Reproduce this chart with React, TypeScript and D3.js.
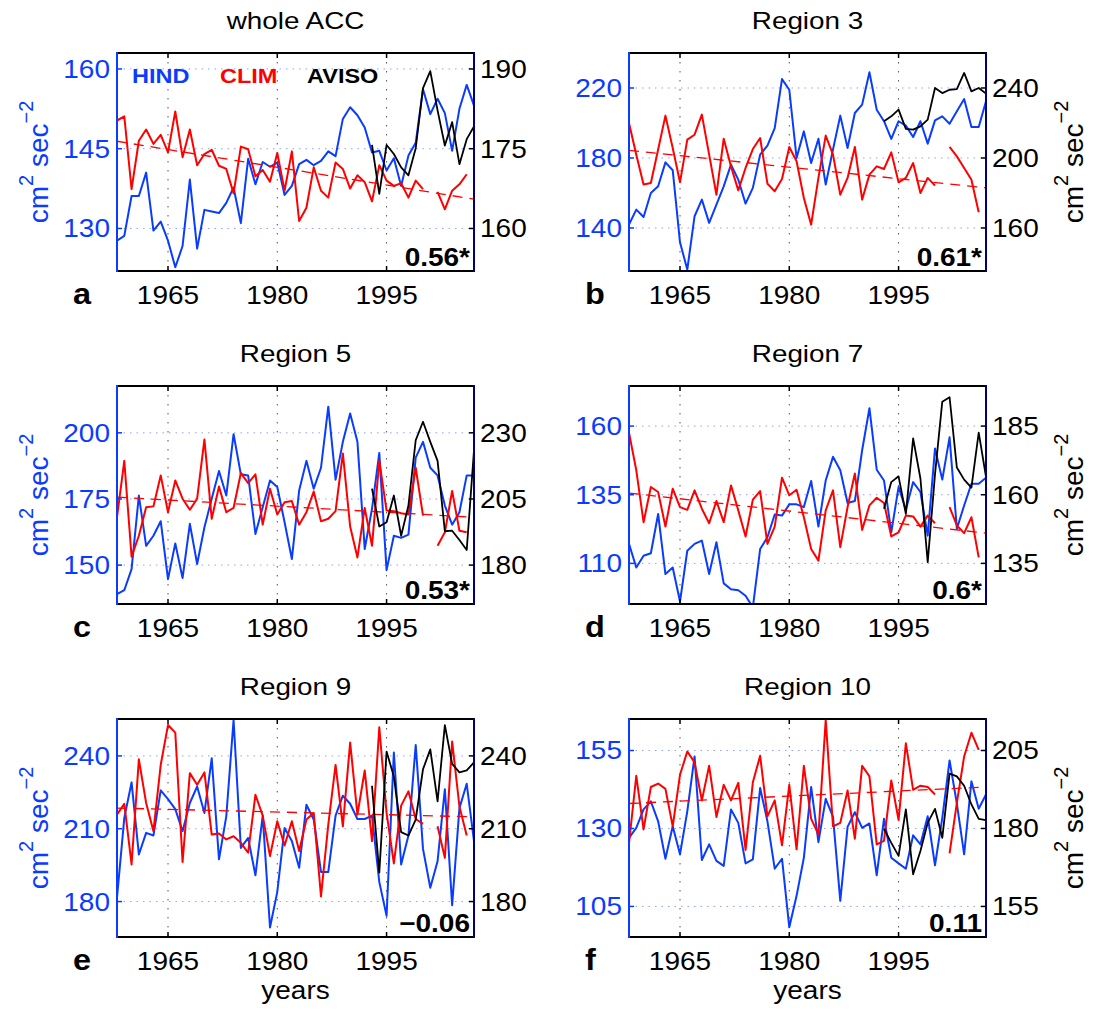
import React, { useEffect, useRef } from 'react';
import * as d3 from 'd3';

// years on the x axis
const years = d3.range(1958, 2008);
const avisoYears = d3.range(1993, 2008);

// HIND (left axis), one value per year 1958-2007
const hindA = [127.7, 128.6, 136.1, 136.1, 140.5, 129.6, 131.3, 127.7, 122.7, 126.7, 139.2, 126.2, 133.5, 133.2, 132.9, 134.8, 137.7, 131.0, 143.1, 138.3, 142.5, 141.6, 142.4, 136.3, 138.0, 142.1, 142.9, 141.9, 142.7, 144.5, 143.6, 150.6, 152.8, 151.3, 149.0, 144.3, 144.6, 140.9, 143.2, 138.0, 143.7, 146.1, 156.2, 151.5, 154.4, 151.7, 144.6, 152.5, 157.0, 153.1];
const hindB = [141.9, 150.5, 146.3, 160.0, 163.8, 177.5, 173.0, 131.8, 116.2, 146.7, 156.2, 142.9, 153.3, 163.8, 176.2, 167.6, 153.9, 162.9, 181.9, 187.0, 197.1, 225.1, 219.0, 180.0, 195.2, 177.1, 191.0, 164.8, 184.8, 204.2, 185.7, 205.7, 210.5, 229.0, 207.6, 201.0, 190.9, 201.0, 198.5, 192.0, 201.0, 188.2, 201.5, 203.8, 199.6, 206.7, 213.7, 197.7, 197.7, 212.4];
const hindC = [139.0, 140.5, 148.5, 176.3, 157.3, 161.1, 166.6, 144.7, 158.2, 145.1, 165.6, 150.4, 164.3, 175.1, 185.6, 176.3, 199.5, 184.3, 183.9, 161.8, 171.9, 182.0, 179.5, 166.2, 152.3, 178.2, 189.4, 178.9, 186.8, 209.9, 182.3, 196.6, 207.3, 196.6, 156.1, 171.3, 192.4, 148.1, 161.1, 160.3, 161.5, 190.6, 196.6, 186.8, 183.9, 172.5, 165.3, 170.0, 183.9, 183.9];
const hindD = [117.1, 108.5, 112.8, 113.7, 128.0, 106.1, 108.5, 96.1, 114.6, 117.1, 118.3, 106.1, 117.7, 102.7, 100.6, 100.2, 98.2, 94.0, 115.2, 119.5, 127.8, 127.4, 131.5, 131.5, 130.5, 140.0, 123.4, 140.2, 148.8, 143.9, 132.0, 132.7, 151.2, 166.5, 144.1, 140.2, 121.3, 137.8, 129.5, 139.6, 136.0, 120.1, 151.8, 140.5, 155.9, 122.6, 131.1, 139.0, 139.0, 141.2];
const hindE = [181.6, 214.4, 229.1, 199.4, 208.3, 207.2, 225.8, 222.2, 218.1, 209.0, 220.6, 227.4, 216.5, 239.0, 197.4, 215.1, 254.8, 202.1, 206.2, 190.8, 215.4, 169.3, 184.0, 210.3, 204.9, 193.9, 219.9, 213.8, 192.2, 192.2, 215.4, 223.6, 220.3, 214.0, 214.0, 215.4, 188.1, 174.1, 241.4, 195.3, 207.2, 244.5, 201.7, 185.7, 196.6, 226.3, 178.5, 218.5, 228.5, 204.9];
const hindF = [127.0, 130.2, 136.1, 138.7, 132.3, 120.3, 130.7, 121.7, 135.5, 153.1, 119.9, 124.9, 119.6, 118.0, 136.1, 131.8, 118.8, 120.1, 143.0, 132.3, 117.1, 120.3, 98.3, 108.4, 120.6, 143.3, 125.6, 139.5, 133.7, 106.8, 130.5, 135.2, 130.2, 131.6, 115.0, 133.1, 120.6, 118.8, 117.1, 127.8, 124.9, 133.9, 118.2, 133.4, 151.8, 138.0, 121.7, 145.1, 136.3, 140.9];

// CLIM (left axis), 1958-2007, missing 2001 and 2007
const climA = [150.3, 151.1, 137.4, 146.5, 148.6, 145.9, 147.6, 144.3, 152.0, 143.4, 148.6, 141.9, 144.0, 144.8, 141.8, 141.2, 136.6, 145.4, 144.9, 139.8, 141.0, 138.8, 144.2, 137.1, 144.5, 131.4, 133.9, 141.5, 137.1, 135.8, 142.4, 141.2, 137.5, 140.0, 138.7, 135.1, 141.9, 139.0, 138.0, 138.5, 135.8, 139.0, 137.4, null, 136.9, 133.6, 137.1, 138.3, 140.2, null];
const climB = [200.0, 181.9, 164.8, 165.7, 184.8, 204.2, 185.7, 166.1, 190.5, 193.3, 204.8, 181.9, 159.0, 191.0, 175.2, 161.5, 174.3, 185.1, 191.4, 165.3, 161.0, 168.0, 186.3, 178.1, 157.1, 141.9, 168.6, 192.8, 181.9, 159.0, 168.6, 186.3, 156.2, 170.5, 175.2, 173.7, 183.2, 166.1, 168.6, 177.1, 160.0, 168.6, 164.2, null, 186.3, 180.9, 174.3, 167.6, 149.0, null];
const climC = [168.1, 189.4, 153.2, 161.1, 171.9, 172.2, 183.9, 170.0, 182.0, 175.1, 170.9, 175.1, 197.5, 167.5, 179.7, 170.0, 171.6, 184.8, 181.0, 184.3, 165.3, 178.9, 169.1, 173.8, 174.2, 165.3, 170.0, 177.8, 166.6, 167.5, 170.4, 192.2, 164.6, 152.9, 171.6, 157.3, 189.4, 170.6, 170.4, 169.6, 169.1, 186.8, 168.7, null, 157.3, 162.4, 178.0, 163.0, 162.4, null];
const climD = [157.6, 143.9, 125.0, 137.8, 136.0, 123.4, 137.2, 130.5, 129.5, 136.6, 129.9, 124.6, 132.7, 125.0, 138.4, 129.3, 119.8, 133.2, 136.3, 117.1, 123.4, 141.2, 134.8, 136.8, 126.8, 115.2, 111.0, 129.3, 136.6, 115.9, 130.5, 142.7, 122.2, 131.1, 133.9, 132.0, 119.8, 121.3, 127.4, 127.1, 123.4, 127.4, 124.6, null, 130.5, 123.8, 121.0, 126.8, 112.2, null];
const climE = [215.8, 220.3, 195.3, 238.6, 220.6, 209.0, 236.3, 252.7, 249.6, 196.3, 232.9, 228.1, 233.2, 207.6, 208.0, 205.6, 206.9, 204.2, 200.1, 224.0, 215.4, 198.7, 213.1, 203.1, 213.1, 200.8, 213.8, 216.5, 182.1, 211.7, 236.3, 211.0, 245.5, 215.8, 234.0, 204.9, 251.8, 216.5, 195.7, 219.5, 225.4, 214.0, 212.0, null, 211.0, 198.0, 245.9, 219.2, 207.2, null];
const climF = [125.2, 146.9, 129.7, 143.3, 144.4, 142.7, 130.7, 147.2, 154.7, 151.2, 139.0, 150.1, 133.7, 144.0, 139.0, 144.6, 123.1, 144.8, 153.3, 133.9, 139.0, 124.6, 144.0, 123.3, 150.1, 133.1, 128.1, 164.8, 130.7, 131.8, 142.2, 126.7, 150.1, 146.7, 124.9, 126.0, 145.4, 132.7, 157.3, 142.4, 143.7, 143.3, 140.9, null, 122.0, 138.2, 153.1, 160.7, 155.2, null];

// CLIM linear trend, value at 1958 and at 2007
const trendA = [146.4, 135.5];
const trendB = [184.4, 162.9];
const trendC = [175.7, 168.1];
const trendD = [135.6, 121.0];
const trendE = [218.5, 214.9];
const trendF = [138.0, 143.3];

// AVISO (right axis), 1993-2007
const avisoA = [175.7, 166.5, 175.7, 174.0, 171.5, 170.0, 175.1, 186.4, 189.6, 182.2, 175.6, 180.0, 172.1, 176.8, 179.2];
const avisoB = [221.0, 223.8, 227.6, 216.6, 216.2, 218.1, 221.9, 240.0, 237.1, 239.0, 239.4, 248.6, 238.1, 240.0, 236.8];
const avisoC = [208.9, 194.6, 196.2, 206.3, 191.1, 202.5, 227.2, 234.2, 226.6, 219.4, 192.8, 193.0, 189.5, 185.7, 223.4];
const avisoD = [154.9, 164.6, 166.7, 153.0, 180.5, 165.9, 135.4, 167.4, 193.9, 195.5, 169.9, 165.5, 162.6, 182.6, 166.5];
const avisoE = [227.7, 191.9, 241.8, 231.5, 208.6, 207.2, 213.8, 234.5, 242.7, 221.3, 252.7, 236.7, 233.2, 234.0, 237.3];
const avisoF = [179.9, 175.4, 171.2, 186.1, 165.3, 172.8, 181.8, 186.3, 177.0, 197.6, 196.7, 193.7, 187.7, 183.1, 182.7];

// tick labels
const xTicks = [1965, 1980, 1995];
const leftTicks = [[130, 145, 160], [140, 180, 220], [150, 175, 200], [110, 135, 160], [180, 210, 240], [105, 130, 155]];
const rightTicks = [[160, 175, 190], [160, 200, 240], [180, 205, 230], [135, 160, 185], [180, 210, 240], [155, 180, 205]];

const titles = ['whole ACC', 'Region 3', 'Region 5', 'Region 7', 'Region 9', 'Region 10'];
const letters = ['a', 'b', 'c', 'd', 'e', 'f'];
const corrLabels = ['0.56*', '0.61*', '0.53*', '0.6*', '\u22120.06', '0.11'];

const leftDomains = [[122, 163], [115.4, 240], [135.3, 217.7], [95.2, 174.6], [165.4, 255.2], [95.2, 165.1]];
const rightDomains = [[152, 193], [135.4, 260], [165.3, 247.7], [120.2, 199.6], [165.4, 255.2], [145.2, 215.1]];

const hind = [hindA, hindB, hindC, hindD, hindE, hindF];
const clim = [climA, climB, climC, climD, climE, climF];
const trends = [trendA, trendB, trendC, trendD, trendE, trendF];
const aviso = [avisoA, avisoB, avisoC, avisoD, avisoE, avisoF];

const BLUE = '#0a3cff';
const RED = '#ff0000';
const FONT = '"Liberation Sans", Arial, Helvetica, sans-serif';
const SX = 1.12;

function App() {
  const ref = useRef<SVGSVGElement>(null);

  useEffect(() => {
    const svg = d3.select(ref.current);
    svg.selectAll('*').remove();

    const colX = [[117, 474], [629, 986]];
    const rowY = [53, 386, 719];
    const ph = 218;

    const label = (g: any, x: number, y: number, s: string, size: number, anchor: string, color: string, bold = false, sx = SX) =>
      g.append('text')
        .attr('transform', `translate(${x},${y}) scale(${sx},1)`)
        .attr('text-anchor', anchor)
        .attr('font-family', FONT)
        .attr('font-size', size)
        .attr('font-weight', bold ? 'bold' : 'normal')
        .attr('fill', color)
        .text(s);

    const ylabel = (g: any, x: number, y: number, color: string) => {
      const t = g.append('text')
        .attr('transform', `translate(${x},${y}) rotate(-90)`)
        .attr('text-anchor', 'middle')
        .attr('font-family', FONT)
        .attr('font-size', 28)
        .attr('fill', color);
      t.append('tspan').text('cm');
      t.append('tspan').attr('font-size', 20).attr('dy', -15).text('2');
      t.append('tspan').attr('dy', 15).text(' sec');
      t.append('tspan').attr('font-size', 20).attr('dy', -15).text('\u22122');
    };

    titles.forEach((title, i) => {
      const col = i % 2;
      const row = Math.floor(i / 2);
      const [x0, x1] = colX[col];
      const y0 = rowY[row];
      const y1 = y0 + ph;

      const x = d3.scaleLinear().domain([1958, 2007]).range([x0, x1]);
      const yL = d3.scaleLinear().domain(leftDomains[i]).range([y1, y0]);
      const yR = d3.scaleLinear().domain(rightDomains[i]).range([y1, y0]);

      const g = svg.append('g');
      const clipId = `clip${i}`;
      g.append('clipPath').attr('id', clipId)
        .append('rect').attr('x', x0).attr('y', y0).attr('width', x1 - x0).attr('height', ph);

      // grid
      g.selectAll('.hg').data(leftTicks[i]).enter().append('line')
        .attr('x1', x0).attr('x2', x1)
        .attr('y1', (d) => yL(d)).attr('y2', (d) => yL(d))
        .attr('stroke', '#8fa3ff').attr('stroke-width', 1).attr('stroke-dasharray', '1.5,5');
      g.selectAll('.vg').data(xTicks).enter().append('line')
        .attr('x1', (d) => x(d)).attr('x2', (d) => x(d))
        .attr('y1', y0).attr('y2', y1)
        .attr('stroke', '#555').attr('stroke-width', 1).attr('stroke-dasharray', '1.5,7.5');

      const plot = g.append('g').attr('clip-path', `url(#${clipId})`);
      const lineL = d3.line<any>()
        .defined((d) => d[1] != null)
        .x((d) => x(d[0]))
        .y((d) => yL(d[1]));
      const lineR = d3.line<any>()
        .x((d) => x(d[0]))
        .y((d) => yR(d[1]));

      plot.append('path')
        .attr('d', lineL(years.map((yr, k) => [yr, hind[i][k]])))
        .attr('fill', 'none').attr('stroke', BLUE).attr('stroke-width', 2).attr('stroke-linejoin', 'round');
      plot.append('path')
        .attr('d', lineL(years.map((yr, k) => [yr, clim[i][k]])))
        .attr('fill', 'none').attr('stroke', RED).attr('stroke-width', 2).attr('stroke-linejoin', 'round');
      plot.append('path')
        .attr('d', lineL([[1958, trends[i][0]], [2007, trends[i][1]]]))
        .attr('fill', 'none').attr('stroke', RED).attr('stroke-width', 1.3).attr('stroke-dasharray', '10,7');
      plot.append('path')
        .attr('d', lineR(avisoYears.map((yr, k) => [yr, aviso[i][k]])))
        .attr('fill', 'none').attr('stroke', '#000').attr('stroke-width', 1.8).attr('stroke-linejoin', 'round');

      // axes box
      g.append('line').attr('x1', x0).attr('x2', x1).attr('y1', y0).attr('y2', y0).attr('stroke', '#000').attr('stroke-width', 2);
      g.append('line').attr('x1', x0).attr('x2', x1).attr('y1', y1).attr('y2', y1).attr('stroke', '#000').attr('stroke-width', 2);
      g.append('line').attr('x1', x0).attr('x2', x0).attr('y1', y0 - 1).attr('y2', y1 + 1).attr('stroke', BLUE).attr('stroke-width', 2);
      g.append('line').attr('x1', x1).attr('x2', x1).attr('y1', y0 - 1).attr('y2', y1 + 1).attr('stroke', '#00007a').attr('stroke-width', 2);

      // ticks
      xTicks.forEach((t) => {
        g.append('line').attr('x1', x(t)).attr('x2', x(t)).attr('y1', y1).attr('y2', y1 - 5).attr('stroke', '#000').attr('stroke-width', 1.5);
        g.append('line').attr('x1', x(t)).attr('x2', x(t)).attr('y1', y0).attr('y2', y0 + 5).attr('stroke', '#000').attr('stroke-width', 1.5);
        label(g, x(t), y1 + 33, String(t), 25, 'middle', '#000');
      });
      leftTicks[i].forEach((t) => {
        g.append('line').attr('x1', x0).attr('x2', x0 + 5).attr('y1', yL(t)).attr('y2', yL(t)).attr('stroke', BLUE).attr('stroke-width', 1.5);
        label(g, x0 - 7, yL(t) + 9, String(t), 25, 'end', BLUE);
      });
      rightTicks[i].forEach((t) => {
        g.append('line').attr('x1', x1).attr('x2', x1 - 5).attr('y1', yR(t)).attr('y2', yR(t)).attr('stroke', '#000').attr('stroke-width', 1.5);
        label(g, x1 + 6, yR(t) + 9, String(t), 25, 'start', '#000');
      });

      // texts
      label(g, (x0 + x1) / 2, y0 - 24, title, 24, 'middle', '#000', false, 1.16);
      label(g, x0 - 44, y1 + 33, letters[i], 29, 'start', '#000', true);
      label(g, x1 - 4, y1 - 5, corrLabels[i], 25, 'end', '#000', true);

      if (col === 0) ylabel(g, 48, (y0 + y1) / 2, BLUE);
      else ylabel(g, 1083, (y0 + y1) / 2, '#000');
      if (row === 2) label(g, (x0 + x1) / 2, 999, 'years', 25, 'middle', '#000');

      if (i === 0) {
        label(g, 132, 83, 'HIND', 21, 'start', BLUE, true);
        label(g, 220, 83, 'CLIM', 21, 'start', RED, true);
        label(g, 307, 83, 'AVISO', 21, 'start', '#000', true);
      }
    });
  }, []);

  return (
    <svg
      ref={ref}
      width={1097}
      height={1011}
      style={{ position: 'absolute', left: 0, top: 0, background: '#fff' }}
    />
  );
}

export default App;
